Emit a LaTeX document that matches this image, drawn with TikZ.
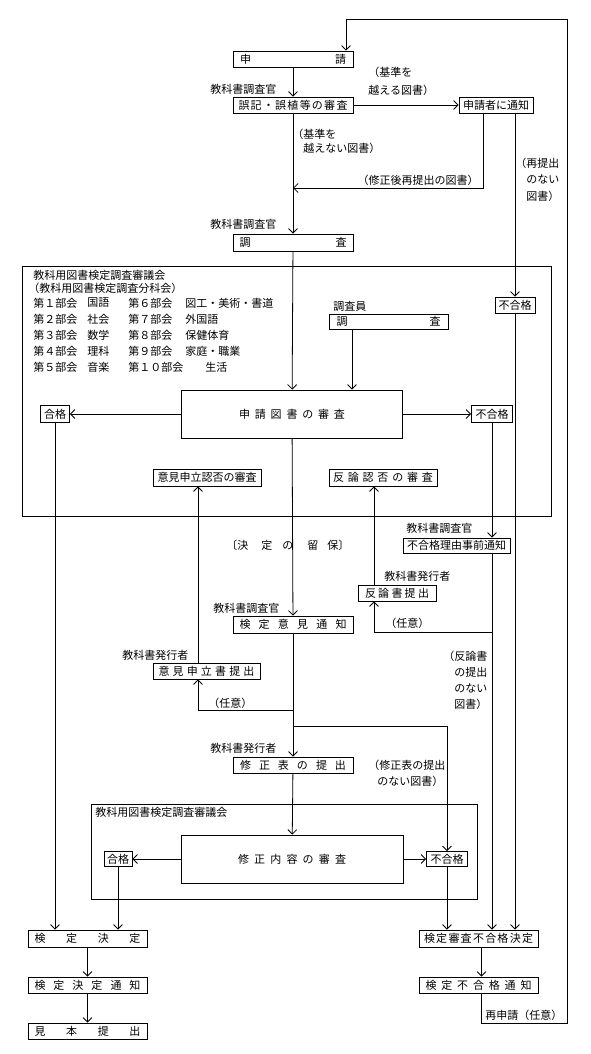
\documentclass[tikz,border=0pt]{standalone}
\usepackage{fontspec}
\setmainfont{Noto Sans CJK JP}
\usetikzlibrary{arrows.meta,positioning}
\newcommand{\spreadtext}[2]{\hbox to #1{#2}}

\begin{document}
\begin{tikzpicture}[x=1pt,y=-1pt,font=\fontsize{11}{13}\selectfont,>={Straight Barb[length=4.5pt,width=9pt]},line width=0.8pt,
  every node/.style={inner sep=0pt},
  box/.style={draw,minimum width=120pt,minimum height=16pt},
  note/.style={anchor=west,align=left}]
  \fill[white] (0,0) rectangle (590,1054);
  \useasboundingbox (0,0) rectangle (590,1054);
  \draw (22,266) rectangle (551,516);
  \draw (91,804) rectangle (477,899);
  \node[box] (apply) at (293,59) {\spreadtext{106pt}{申\hfil 請}};
  \node[box] (typo) at (293,105) {\spreadtext{109pt}{誤\hfil 記\hfil ・\hfil 誤\hfil 植\hfil 等\hfil の\hfil 審\hfil 査}};
  \node[box,minimum width=74pt] (notify) at (496,105) {申請者に通知};
  \node[box,minimum height=17pt] (survey) at (293,242.5) {\spreadtext{107pt}{調\hfil 査}};
  \node[box,minimum width=40pt] (fail1) at (515,305) {不合格};
  \node[box,minimum width=119pt,minimum height=15pt] (survey2) at (388.5,321.5) {\spreadtext{104pt}{調\hfil 査}};
  \node[box,minimum width=221pt,minimum height=48pt] (review1) at (292,414) {\spreadtext{106pt}{申\hfil 請\hfil 図\hfil 書\hfil の\hfil 審\hfil 査}};
  \node[box,minimum width=29pt,minimum height=17pt] (pass1) at (55,414) {合格};
  \node[box,minimum width=41pt,minimum height=17pt] (fail2) at (492,414) {不合格};
  \node[box,minimum width=108pt,minimum height=17pt] (objreview) at (207,477.5) {意見申立認否の審査};
  \node[box,minimum width=108pt,minimum height=17pt] (rebreview) at (383,477.5) {\spreadtext{100pt}{反\hfil 論\hfil 認\hfil 否\hfil の\hfil 審\hfil 査}};
  \node[box,minimum width=107pt,minimum height=15pt] (prenotice) at (456.5,545.5) {不合格理由事前通知};
  \node[box,minimum width=78pt] (rebut) at (397,593) {\spreadtext{64pt}{反\hfil 論\hfil 書\hfil 提\hfil 出}\hspace{8pt}};
  \node[box,minimum height=17pt] (opnotice) at (293,624.5) {\spreadtext{107pt}{検\hfil 定\hfil 意\hfil 見\hfil 通\hfil 知}};
  \node[box,minimum width=107pt] (objection) at (206.5,671) {\spreadtext{96pt}{意\hfil 見\hfil 申\hfil 立\hfil 書\hfil 提\hfil 出}};
  \node[box] (fix) at (293,765) {\spreadtext{106pt}{修\hfil 正\hfil 表\hfil の\hfil 提\hfil 出}};
  \node[box,minimum width=222pt,minimum height=48pt] (review2) at (292,859) {\spreadtext{108pt}{修\hfil 正\hfil 内\hfil 容\hfil の\hfil 審\hfil 査}};
  \node[box,minimum width=28pt,minimum height=15pt] (pass2) at (118,859) {合格};
  \node[box,minimum width=41pt,minimum height=15pt] (fail3) at (447,859) {不合格};
  \node[box,minimum width=119pt,minimum height=17pt] (decision) at (87.5,938.5) {\spreadtext{106pt}{検\hfil 定\hfil 決\hfil 定}};
  \node[box,minimum width=119pt] (decnotice) at (87.5,985) {\spreadtext{106pt}{検\hfil 定\hfil 決\hfil 定\hfil 通\hfil 知}};
  \node[box,minimum width=119pt] (sample) at (87.5,1031) {\spreadtext{106pt}{見\hfil 本\hfil 提\hfil 出}};
  \node[box,minimum width=119pt,minimum height=17pt] (faildec) at (478.5,938.5) {\spreadtext{109pt}{検\hfil 定\hfil 審\hfil 査\hfil 不\hfil 合\hfil 格\hfil 決\hfil 定}};
  \node[box,minimum width=119pt] (failnotice) at (478.5,985) {\spreadtext{106pt}{検\hfil 定\hfil 不\hfil 合\hfil 格\hfil 通\hfil 知}};
  \node[note] (off1) at (210,89) {教科書調査官};
  \node[note,font=\fontsize{11}{18}\selectfont] (over) at (368,81) {（基準を\\越える図書）};
  \node[note,font=\fontsize{11}{14}\selectfont] (under) at (292,141.5) {（基準を\\\hspace*{1em}越えない図書）};
  \node (resub) at (418,180) {（修正後再提出の図書）};
  \node[note,font=\fontsize{11}{16.5}\selectfont] (noresub) at (515,179.5) {（再提出\\\hspace*{1em}のない\\\hspace*{1em}図書）};
  \node[note] (off2) at (210,224) {教科書調査官};
  \node[note] (staff) at (333,306) {調査員};
  \node[note] (council1) at (33,275) {教科用図書検定調査審議会};
  \node[note] (subcouncil) at (28,288) {（教科用図書検定調査分科会）};
  \foreach \y/\ka/\kb/\kc/\kd/\xd in {303/第１部会/国語/第６部会/図工・美術・書道/185,319/第２部会/社会/第７部会/外国語/185,335/第３部会/数学/第８部会/保健体育/185,351/第４部会/理科/第９部会/家庭・職業/185,367/第５部会/音楽/第１０部会/生活/205}{
    \node[note] (ka\y) at (33,\y) {\ka};
    \node[note] (kb\y) at (87,\y) {\kb};
    \node[note] (kc\y) at (128,\y) {\kc};
    \node[note] (kd\y) at (\xd,\y) {\kd};
  }
  \node[note] (hold) at (226,545) {〔決\hspace{13pt}定\hspace{10pt}の\hspace{14pt}留\hspace{9pt}保〕};
  \node[note] (off3) at (406,528) {教科書調査官};
  \node[note] (pub1) at (384,576) {教科書発行者};
  \node[note] (off4) at (213,608) {教科書調査官};
  \node[note] (opt1) at (385,623) {（任意）};
  \node[note,font=\fontsize{11}{16}\selectfont] (norebut) at (443,680) {（反論書\\\hspace*{1em}の提出\\\hspace*{1em}のない\\\hspace*{1em}図書）};
  \node[note] (pub2) at (122,655) {教科書発行者};
  \node[note] (opt2) at (208,703) {（任意）};
  \node[note] (pub3) at (210,748) {教科書発行者};
  \node[note,font=\fontsize{11}{16}\selectfont] (nofix) at (368,773) {（修正表の提出\\\hspace*{9pt}のない図書）};
  \node[note] (council2) at (95,812) {教科用図書検定調査審議会};
  \node[note] (reapply) at (485,1015) {再申請（任意）};
  \coordinate (loopA) at (567,1023);
  \coordinate (loopB) at (567,19);
  \coordinate (loopC) at (346,19);
  \coordinate (back) at (483,188);
  \coordinate (c2) at (352,0);
  \coordinate (k1) at (374,632);
  \coordinate (k2) at (198,710);
  \coordinate (k3) at (447,726);
  \draw[->] ([xshift=3pt]failnotice.south) |- (loopA) -- (loopB) -- (loopC) -- (loopC |- apply.north);
  \draw[->] (apply) -- (typo); \draw[->] (typo) -- (notify); \draw[->] (typo) -- (survey);
  \draw[->] (notify.south -| back) -- (back) -- (back -| typo);
  \draw[->] (notify.south -| fail1) -- (fail1);
  \draw[->] (survey) -- (review1);
  \draw[->] (survey2.south -| c2) -- (review1.north -| c2);
  \draw[->] (review1) -- (pass1); \draw[->] (review1) -- (fail2); \draw[->] (review1) -- (opnotice);
  \draw[->] (pass1) -- (pass1 |- decision.north);
  \draw[->] (fail2) -- (fail2 |- prenotice.north);
  \draw[->] (prenotice.south -| fail2) -- (fail2 |- faildec.north);
  \draw[->] (fail2 |- k1) -- (k1) -- (k1 |- rebut.south);
  \draw[->] (k1 |- rebut.north) -- (k1 |- rebreview.south);
  \draw[->] (fail1) -- (fail1 |- faildec.north);
  \draw[->] (opnotice) -- (fix);
  \draw[->] (opnotice.south |- k2) -- (k2) -- (k2 |- objection.south);
  \draw[->] (k2 |- objection.north) -- (k2 |- objreview.south);
  \draw[->] (opnotice.south |- k3) -- (k3) -- (fail3);
  \draw[->] (fix) -- (review2);
  \draw[->] (review2) -- (pass2); \draw[->] (review2) -- (fail3);
  \draw[->] (pass2) -- (pass2 |- decision.north);
  \draw[->] (fail3) -- (fail3 |- faildec.north);
  \draw[->] (decision) -- (decnotice); \draw[->] (decnotice) -- (sample);
  \draw[->] ([xshift=3pt]faildec.south) -- ([xshift=3pt]failnotice.north);
\end{tikzpicture}
\end{document}
